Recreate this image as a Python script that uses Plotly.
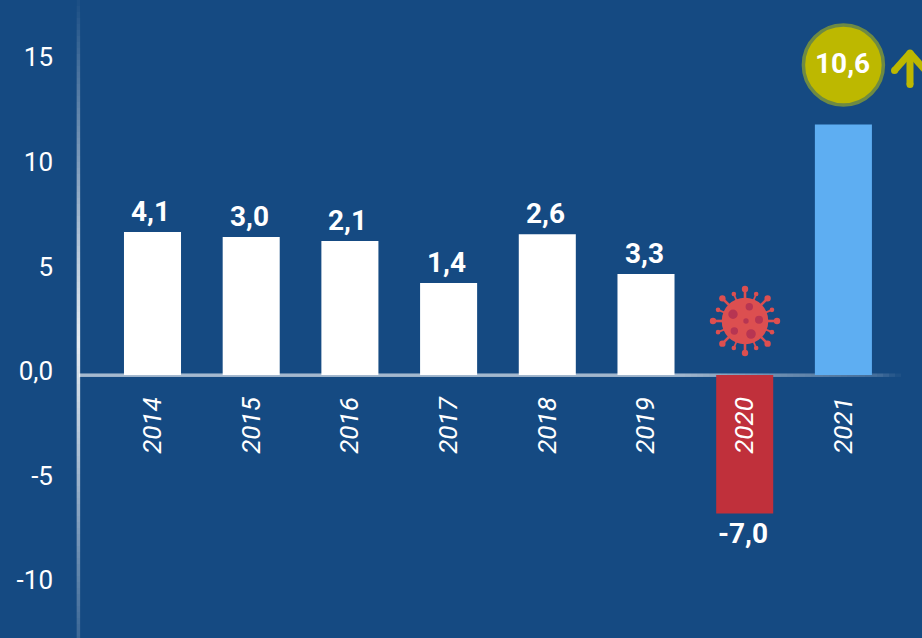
import math
import numpy as np
import plotly.graph_objects as go

years = ["2014", "2015", "2016", "2017", "2018", "2019", "2020", "2021"]
bar_heights = [6.83, 6.6, 6.4, 4.4, 6.73, 4.83, -6.62, 11.98]
bar_labels = ["4,1", "3,0", "2,1", "1,4", "2,6", "3,3", "-7,0", ""]
bar_colors = ["#ffffff"] * 6 + ["#c0303b", "#5eaef2"]
highlight_label = "10,6"
highlight_year = "2021"
highlight_level = 14.82
tick_values = [15, 10, 5, 0, -5, -10]
tick_labels = ["15", "10", "5", "0,0", "-5", "-10"]

BG = "#154a82"
W, H = 922, 638
ML = 79
FONT = "Roboto"


def X(p):
    return (p - ML) / (W - ML)


def Y(p):
    return 1 - p / H


shapes = []


def seg(x0, y0, x1, y1, color, width, layer="above"):
    shapes.append(dict(type="line", xref="paper", yref="paper", x0=X(x0), y0=Y(y0), x1=X(x1), y1=Y(y1),
                       line=dict(color=color, width=width), layer=layer))


def disc(cx, cy, r, color, layer="above"):
    shapes.append(dict(type="circle", xref="paper", yref="paper", x0=X(cx - r), x1=X(cx + r),
                       y0=Y(cy + r), y1=Y(cy - r), fillcolor=color, line=dict(width=0), layer=layer))


# Fading axis lines
for y in range(0, H, 6):
    a = float(np.interp(y, [0, 60, 160, 250, 340, 470, 560, 638], [0.03, 0.2, 0.45, 0.7, 0.9, 0.6, 0.35, 0.15]))
    seg(78.4, y, 78.4, y + 6, f"rgba(255,255,255,{a:.3f})", 3.5, "below")
for x in range(79, 902, 6):
    a = float(np.interp(x, [79, 680, 760, 875, 900], [0.62, 0.6, 0.4, 0.2, 0.0]))
    seg(x, 375.2, x + 6, 375.2, f"rgba(255,255,255,{a:.3f})", 3.5, "below")

# Virus icon
VX, VY, VR = 745, 321, 23.3
VC, VS = "#dc4f50", "#b73552"
for i in range(8):
    t = math.radians(45 * i)
    ex, ey = VX + 32 * math.sin(t), VY - 32 * math.cos(t)
    seg(VX, VY, ex, ey, VC, 2.6)
    disc(ex, ey, 3.2, VC)
    t2 = math.radians(45 * i + 22.5)
    ex, ey = VX + 29.2 * math.sin(t2), VY - 29.2 * math.cos(t2)
    seg(VX, VY, ex, ey, VC, 1.8)
    disc(ex, ey, 2.3, VC)
disc(VX, VY, VR, VC)
for dx, dy, r in [(4.3, -14.3, 3.7), (-12, -6.7, 4.7), (14, -1.3, 4), (1, 0, 2.7), (-10.7, 10, 3.7), (6, 13, 4.8)]:
    disc(VX + dx, VY + dy, r, VS)

# Arrow next to the highlight
AC = "#bdb800"
seg(910, 53, 910, 84.5, AC, 7)
seg(910, 53, 894.5, 70.5, AC, 7)
seg(910, 53, 925.5, 70.5, AC, 7)
disc(910, 84.5, 3.5, AC)
disc(894.5, 70.5, 3.5, AC)
disc(910, 53, 3.5, AC)

label_font = dict(family=FONT, size=28, color="white", weight="bold")

fig = go.Figure()
fig.add_trace(go.Bar(
    x=years, y=bar_heights, width=0.578, marker=dict(color=bar_colors, line=dict(width=0)),
))
fig.add_trace(go.Scatter(
    x=[highlight_year], y=[highlight_level], mode="markers", cliponaxis=False,
    marker=dict(size=80, color="#bdb800", line=dict(color="#6e8a43", width=3.5)),
))

annotations = []
for i, (h, lab) in enumerate(zip(bar_heights, bar_labels)):
    if not lab:
        continue
    annotations.append(dict(xref="x", yref="y", x=i, y=h, text=lab, showarrow=False, font=label_font,
                            xanchor="center", yanchor="bottom" if h > 0 else "top",
                            xshift=-2, yshift=2 if h > 0 else -2))
annotations.append(dict(xref="x", yref="y", x=years.index(highlight_year), y=highlight_level, text=highlight_label,
                        showarrow=False, font=label_font, xanchor="center", yanchor="middle", xshift=-1, yshift=1))

unit = 20.92
fig.update_layout(
    width=W, height=H, margin=dict(l=ML, r=0, t=0, b=0, pad=0),
    paper_bgcolor=BG, plot_bgcolor=BG, showlegend=False, shapes=shapes, annotations=annotations,
    xaxis=dict(
        type="category", categoryorder="array", categoryarray=years, tickmode="array", tickvals=years, ticktext=years,
        range=[-73.5 / 98.7, (922 - 152.5) / 98.7], anchor="free", position=263 / 638,
        showgrid=False, zeroline=False, showline=False, ticks="",
        tickangle=-90, ticklabelstandoff=16,
        tickfont=dict(family=FONT, size=26, color="white", style="italic"),
    ),
    yaxis=dict(
        range=[-263 / unit, 375 / unit], tickmode="array", tickvals=tick_values, ticktext=tick_labels,
        showgrid=False, zeroline=False, showline=False, ticks="",
        ticklabelstandoff=25, ticklabelshift=-4,
        tickfont=dict(family=FONT, size=26, color="white"),
    ),
)
fig.write_html("out.html", config=dict(displayModeBar=False),
               post_script="document.body.style.margin='0';document.documentElement.style.overflow='hidden';")
